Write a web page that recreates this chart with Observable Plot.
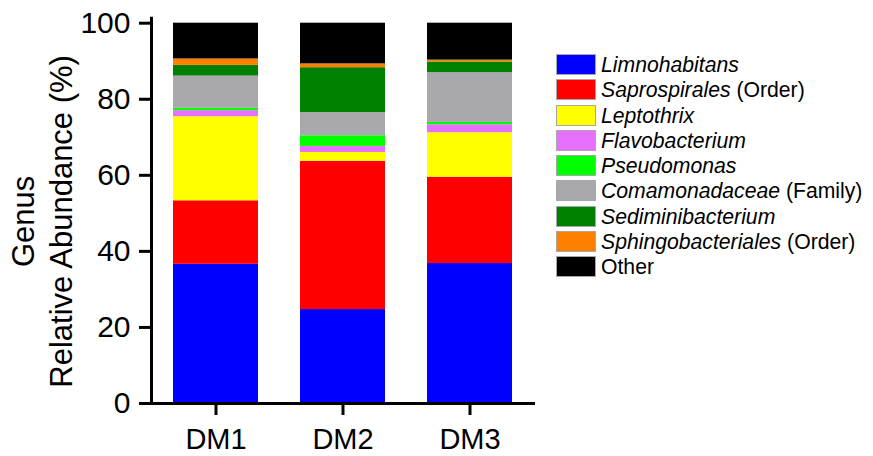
<!DOCTYPE html>
<html>
<head>
<meta charset="utf-8">
<script src="https://cdn.jsdelivr.net/npm/d3@7"></script>
<script src="https://cdn.jsdelivr.net/npm/@observablehq/plot@0.6"></script>
<style>
  html, body { margin: 0; padding: 0; background: #fff; }
  body { width: 873px; height: 456px; position: relative; overflow: hidden; font-family: "Liberation Sans", Arial, sans-serif; }
  #legend { position: absolute; left: 556px; top: 54px; }
  .row { height: 25.25px; display: flex; align-items: flex-start; }
  .sw { width: 38px; height: 19px; border: 1px solid #a8a8a8; flex: none; }
  .lab { margin-left: 5px; font-size: 21.2px; line-height: 21px; color: #000; white-space: nowrap; }
</style>
</head>
<body>
<div id="chart"></div>
<div id="legend"></div>
<script>
const samples = ["DM1", "DM2", "DM3"];
const taxa = ["Limnohabitans", "Saprospirales", "Leptothrix", "Flavobacterium", "Pseudomonas", "Comamonadaceae", "Sediminibacterium", "Sphingobacteriales", "Other"];
const taxonSuffix = ["", " (Order)", "", "", "", " (Family)", "", " (Order)", ""];
const taxonItalic = [true, true, true, true, true, true, true, true, false];
const colors = ["#0000ff", "#ff0000", "#ffff00", "#e770ff", "#00ff00", "#a9a9ad", "#008000", "#ff8000", "#000000"];

// relative abundance (%) per taxon, in sample order DM1, DM2, DM3
const limnohabitans     = [36.6, 24.7, 36.8];
const saprospirales     = [16.7, 39.0, 22.7];
const leptothrix        = [22.1,  2.3, 11.7];
const flavobacterium    = [ 1.6,  1.6,  2.1];
const pseudomonas       = [ 0.6,  2.8,  0.6];
const comamonadaceae    = [ 8.5,  6.1, 13.1];
const sediminibacterium = [ 2.8, 11.8,  2.8];
const sphingobacteriales= [ 1.7,  1.0,  0.5];
const other             = [ 9.4, 10.7,  9.7];
const seriesValues = [limnohabitans, saprospirales, leptothrix, flavobacterium, pseudomonas, comamonadaceae, sediminibacterium, sphingobacteriales, other];

const yTicks = [0, 20, 40, 60, 80, 100];

const rows = [];
taxa.forEach((t, i) => samples.forEach((s, j) => rows.push({sample: s, taxon: t, value: seriesValues[i][j]})));

const chart = Plot.plot({
  width: 873,
  height: 456,
  marginLeft: 151,
  marginRight: 340,
  marginTop: 22.7,
  marginBottom: 53,
  style: {fontFamily: "'Liberation Sans', Arial, sans-serif", color: "#000", background: "#fff"},
  x: {domain: samples, paddingInner: 0.333, paddingOuter: 0.1667, label: null},
  y: {domain: [0, 100], label: null},
  color: {domain: taxa, range: colors},
  marks: [
    Plot.barY(rows, {x: "sample", y: "value", fill: "taxon", order: taxa}),
    Plot.axisY({ticks: yTicks, tickSize: 12, tickPadding: 9, fontSize: 30, strokeWidth: 3, label: null}),
    Plot.axisX({tickSize: 12, tickPadding: 13, fontSize: 29, strokeWidth: 3, label: null}),
    Plot.ruleY([0], {stroke: "#000", strokeWidth: 3, insetLeft: -12, insetRight: -2}),
    Plot.frame({anchor: "left", stroke: "#000", strokeWidth: 3, insetTop: -5}),
    Plot.text(["Genus\nRelative Abundance (%)"], {
      frameAnchor: "left", rotate: -90, textAnchor: "middle", lineAnchor: "middle",
      lineHeight: 1.23, fontSize: 31, dx: -111, dy: 8, fill: "#000"
    })
  ]
});
document.getElementById("chart").appendChild(chart);

const legend = document.getElementById("legend");
taxa.forEach((t, i) => {
  const row = document.createElement("div");
  row.className = "row";
  const sw = document.createElement("div");
  sw.className = "sw";
  sw.style.background = colors[i];
  const lab = document.createElement("div");
  lab.className = "lab";
  const name = document.createElement("span");
  if (taxonItalic[i]) name.style.fontStyle = "italic";
  name.textContent = t;
  lab.appendChild(name);
  if (taxonSuffix[i]) lab.appendChild(document.createTextNode(taxonSuffix[i]));
  row.appendChild(sw);
  row.appendChild(lab);
  legend.appendChild(row);
});
</script>
</body>
</html>
